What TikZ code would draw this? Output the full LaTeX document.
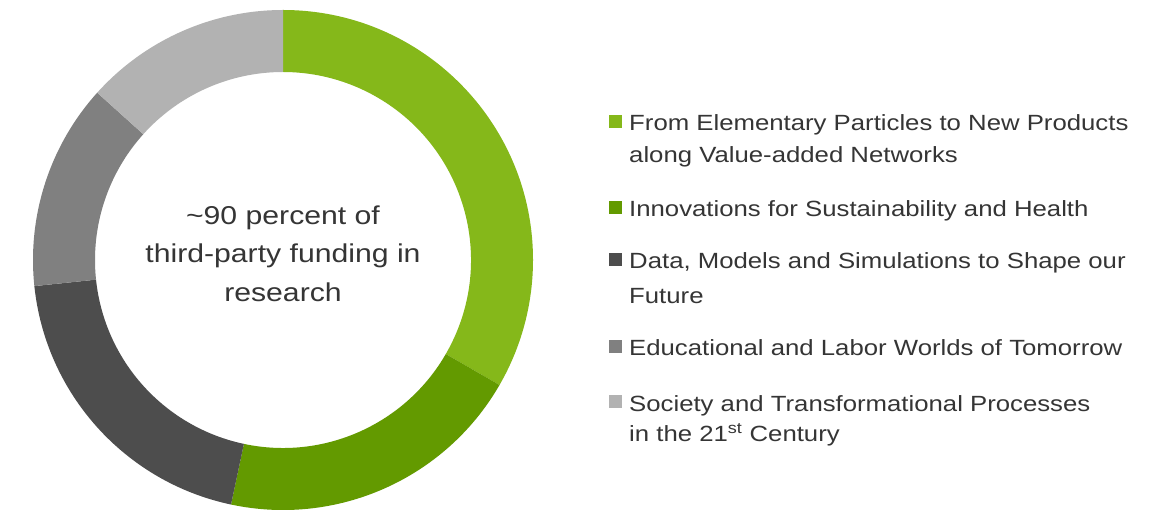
\documentclass[tikz,border=0pt]{standalone}
\usepackage{fontspec}
\setmainfont{Liberation Sans}[FakeStretch=1.17]
\definecolor{leafgreen}{HTML}{85B81A}
\definecolor{mossgreen}{HTML}{639A00}
\definecolor{coal}{HTML}{4D4D4D}
\definecolor{ash}{HTML}{808080}
\definecolor{fog}{HTML}{B2B2B2}
\definecolor{inktext}{HTML}{353535}
\tikzset{
  keybox/.style={fill=#1, minimum size=13.5pt, inner sep=0pt, anchor=south west},
  keytext/.style={anchor=base west, inner sep=0pt, align=left, text=inktext,
    font=\fontsize{22}{32}\selectfont},
}
\begin{document}
\begin{tikzpicture}[x=1pt, y=1pt]
  \useasboundingbox (0,0) rectangle (1170,509);
  \fill[white] (0,0) rectangle (1170,509);
  \coordinate (ctr) at (283,249);
  \foreach \a/\b/\c in {90/-30/leafgreen, -30/-102/mossgreen, -102/-174/coal, -174/-222/ash, -222/-270/fog}
    \fill[\c] ([shift={(\a:250)}]ctr) arc[start angle=\a, end angle=\b, radius=250]
      -- ([shift={(\b:188)}]ctr) arc[start angle=\b, end angle=\a, radius=188] -- cycle;
  \node[inner sep=0pt, anchor=base, align=center, text=inktext,
    font=\fontsize{25.8}{38.5}\selectfont] (summary) at (283,207.5)
    {\textasciitilde 90 percent of\\third-party funding in\\research};

  \node[keybox=leafgreen] (box1) at (608.5,380.5) {};
  \node[keytext] (key1) at (629,346)
    {From Elementary Particles to New Products\\along Value-added Networks};
  \node[keybox=mossgreen] (box2) at (608.5,294.5) {};
  \node[keytext] (key2) at (629,292) {Innovations for Sustainability and Health};
  \node[keybox=coal] (box3) at (608.5,242.5) {};
  \node[keytext] (key3) at (629,205)
    {Data, Models and Simulations to Shape our\\[3pt]Future};
  \node[keybox=ash] (box4) at (608.5,155.5) {};
  \node[keytext] (key4) at (629,153) {Educational and Labor Worlds of Tomorrow};
  \node[keybox=fog] (box5) at (608.5,100.5) {};
  \node[keytext] (key5) at (629,68)
    {Society and Transformational Processes\\[-2pt]in the 21\textsuperscript{st} Century};
\end{tikzpicture}
\end{document}
